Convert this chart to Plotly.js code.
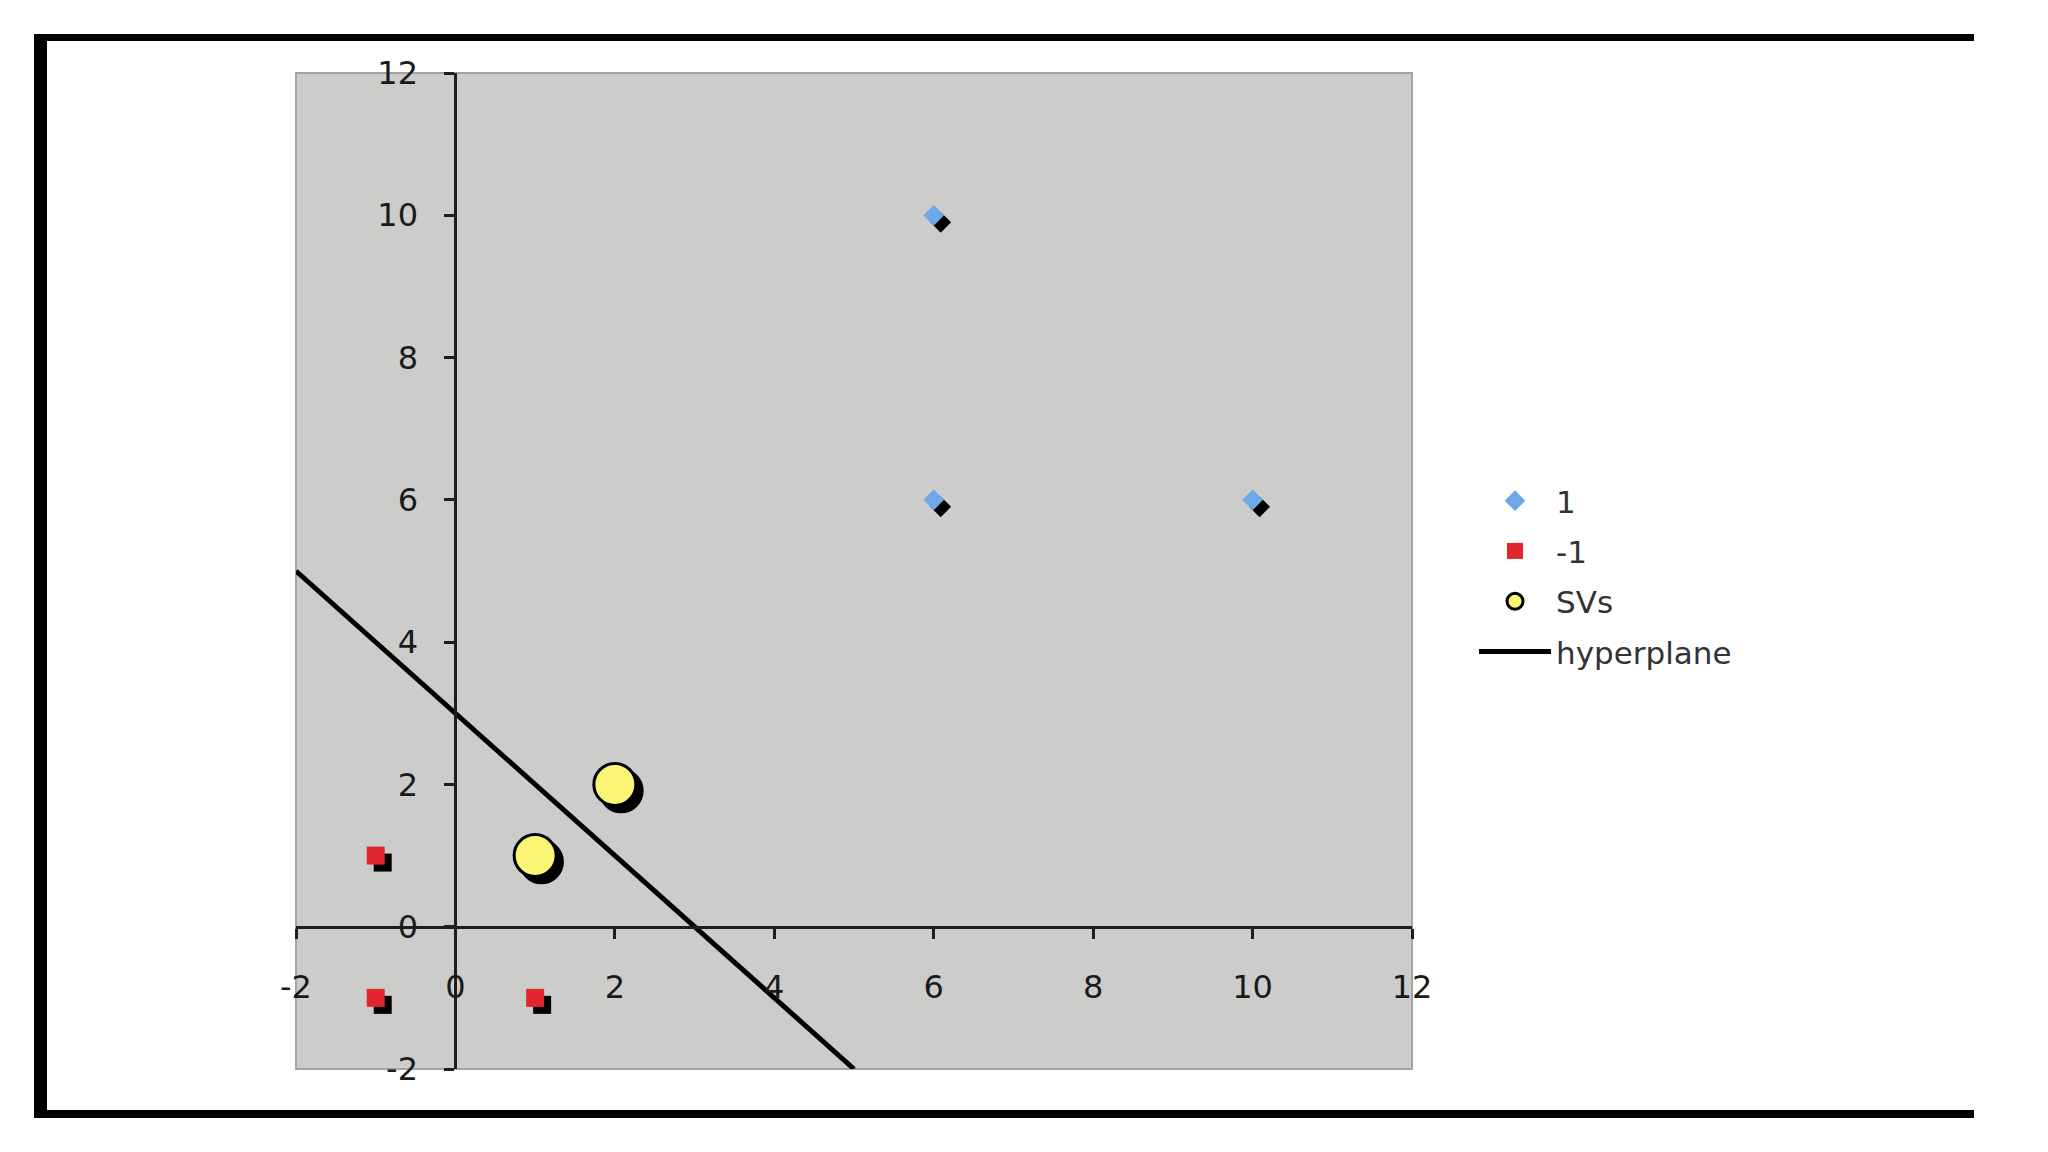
<!DOCTYPE html>
<html>
<head>
<meta charset="utf-8">
<script src="https://cdn.plot.ly/plotly-3.0.1.min.js"></script>
<style>
  html, body { margin: 0; padding: 0; background: #ffffff; }
  #chart { width: 2048px; height: 1152px; }
</style>
</head>
<body>
<div id="chart"></div>
<script>
// ---- data ----
const posX = [6, 6, 10];
const posY = [10, 6, 6];
const negX = [-1, -1, 1];
const negY = [1, -1, -1];
const svX = [1, 2];
const svY = [1, 2];
const hypX = [-2, 5];
const hypY = [5, -2];
const tickVals = [-2, 0, 2, 4, 6, 8, 10, 12];
const tickText = ['-2', '0', '2', '4', '6', '8', '10', '12'];
const seriesNames = ['1', '-1', 'SVs', 'hyperplane'];

// ---- layout geometry (pixels) ----
const W = 2048, H = 1152;
const L = 296, R = 1412, T = 73, B = 1069;
const xMin = -2, xMax = 12, yMin = -2, yMax = 12;
const pxPerX = (R - L) / (xMax - xMin);
const pxPerY = (B - T) / (yMax - yMin);
const px = v => (v - L) / (R - L);
const py = v => (B - v) / (B - T);

// shadow offsets converted to data units
const sdx = 7 / pxPerX, sdy = -7 / pxPerY;
const shift = (arr, d) => arr.map(v => v + d);

const FONT = 'DejaVu Sans, Verdana, sans-serif';

const traces = [
  // shadows
  { x: shift(posX, sdx), y: shift(posY, sdy), type: 'scatter', mode: 'markers', showlegend: false, hoverinfo: 'skip',
    marker: { symbol: 'diamond', size: 16, color: '#000000', line: { width: 0 } } },
  { x: shift(negX, sdx), y: shift(negY, sdy), type: 'scatter', mode: 'markers', showlegend: false, hoverinfo: 'skip',
    marker: { symbol: 'square', size: 18, color: '#000000', line: { width: 0 } } },
  { x: shift(svX, sdx * 0.9), y: shift(svY, sdy * 0.9), type: 'scatter', mode: 'markers', showlegend: false, hoverinfo: 'skip',
    marker: { symbol: 'circle', size: 42, color: '#000000', line: { width: 3, color: '#000000' } } },
  // series
  { x: posX, y: posY, name: seriesNames[0], legendgroup: 'a', type: 'scatter', mode: 'markers',
    marker: { symbol: 'diamond', size: 16, color: '#6ea8ea', line: { width: 0 } } },
  { x: negX, y: negY, name: seriesNames[1], legendgroup: 'b', type: 'scatter', mode: 'markers',
    marker: { symbol: 'square', size: 18, color: '#e2262e', line: { width: 0 } } },
  { x: svX, y: svY, name: seriesNames[2], legendgroup: 'c', type: 'scatter', mode: 'markers',
    marker: { symbol: 'circle', size: 42, color: '#faf574', line: { width: 3, color: '#000000' } } },
  { x: hypX, y: hypY, name: seriesNames[3], legendgroup: 'd', type: 'scatter', mode: 'lines',
    line: { color: '#000000', width: 5 } }
];

const frame = '#000000';
const shapes = [
  // plot area border
  { type: 'rect', xref: 'paper', yref: 'paper', x0: 0, x1: 1, y0: 0, y1: 1, layer: 'below',
    line: { color: '#a2a4a2', width: 2 }, fillcolor: 'rgba(0,0,0,0)' },
  // outer frame (top, left, bottom)
  { type: 'rect', xref: 'paper', yref: 'paper', x0: px(34), x1: px(1974), y0: py(34), y1: py(41),
    line: { width: 0 }, fillcolor: frame },
  { type: 'rect', xref: 'paper', yref: 'paper', x0: px(34), x1: px(47), y0: py(34), y1: py(1118),
    line: { width: 0 }, fillcolor: frame },
  { type: 'rect', xref: 'paper', yref: 'paper', x0: px(34), x1: px(1974), y0: py(1110), y1: py(1118),
    line: { width: 0 }, fillcolor: frame }
];

const axisCommon = {
  showgrid: false, zeroline: false, showline: true, linecolor: '#1e1e1e', linewidth: 3,
  ticks: 'outside', ticklen: 10, tickwidth: 3, tickcolor: '#1e1e1e',
  tickmode: 'array', tickvals: tickVals, ticktext: tickText,
  tickfont: { family: FONT, size: 32, color: '#1a1a1a' },
  anchor: 'free', fixedrange: true
};

const layout = {
  width: W, height: H,
  margin: { l: L, r: W - R, t: T, b: H - B, pad: 0 },
  paper_bgcolor: '#ffffff',
  plot_bgcolor: '#cccdca',
  xaxis: Object.assign({}, axisCommon, {
    range: [xMin, xMax], position: (0 - yMin) / (yMax - yMin), ticklabelstandoff: 21
  }),
  yaxis: Object.assign({}, axisCommon, {
    range: [yMin, yMax], position: (0 - xMin) / (xMax - xMin), ticklabelstandoff: 20
  }),
  showlegend: true,
  legend: {
    x: px(1474), y: py(474), xanchor: 'left', yanchor: 'top',
    bgcolor: 'rgba(0,0,0,0)', borderwidth: 0,
    font: { family: FONT, size: 31, color: '#333333' },
    itemwidth: 72, traceorder: 'grouped', tracegroupgap: 7
  },
  shapes: shapes
};

Plotly.newPlot('chart', traces, layout, { displayModeBar: false, staticPlot: true });
</script>
</body>
</html>
